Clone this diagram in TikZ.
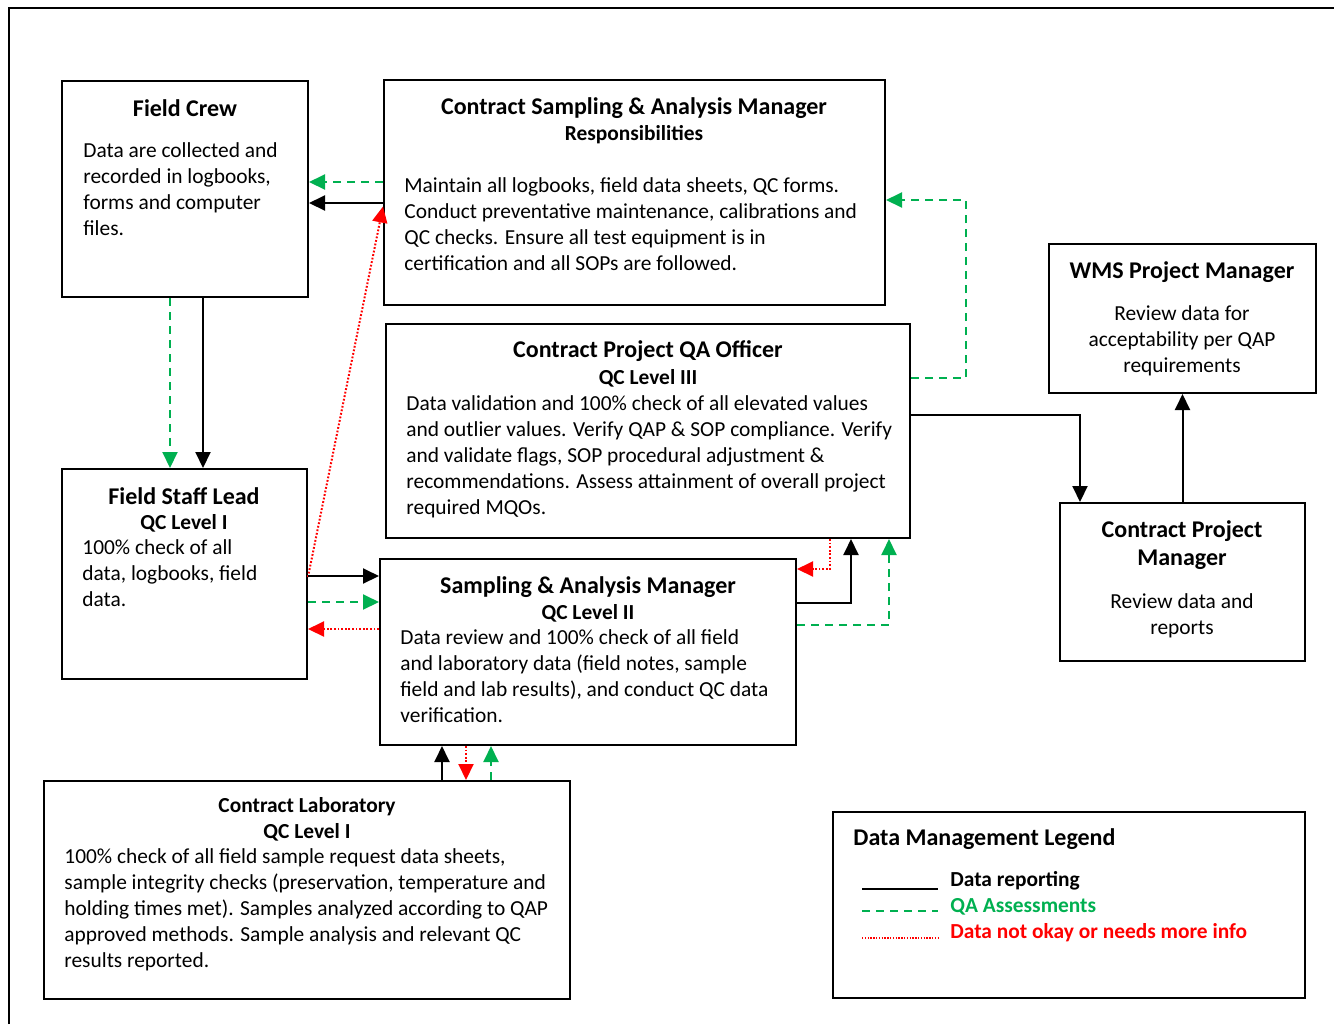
\documentclass[tikz,border=0pt]{standalone}
\usepackage{fontspec}
\setmainfont{Carlito}
\usetikzlibrary{arrows.meta, positioning}
\definecolor{qagreen}{RGB}{0,176,80}

\tikzset{
  box/.style={draw, line width=1pt, inner sep=0pt},
  head/.style={font=\bfseries\fontsize{12}{14}\selectfont, inner sep=0pt, align=center, yshift=-0.75pt},
  sub/.style={font=\bfseries\fontsize{10.7}{13}\selectfont, inner sep=0pt, yshift=-0.75pt},
  legtext/.style={font=\bfseries\fontsize{10.7}{13}\selectfont, inner sep=0pt, anchor=west},
  body/.style={font=\fontsize{10.7}{13}\selectfont, inner sep=0pt, align=left, anchor=base west},
  cbody/.style={font=\fontsize{10.7}{13}\selectfont, inner sep=0pt, align=center, anchor=base},
  tip/.style={-{Triangle[length=8pt,width=7.5pt]}},
  report/.style={tip, line width=1pt},
  qa/.style={tip, qagreen, line width=1pt, dash pattern=on 4pt off 3pt},
  notok/.style={tip, red, line width=1pt, dash pattern=on 0.9pt off 0.9pt},
}

\begin{document}
\begin{tikzpicture}[x=0.5pt, y=-0.5pt]
  \useasboundingbox (0,0) rectangle (1334,1024);
  \draw[line width=1.2pt] (9,1024) -- (9,8) -- (1334,8);

  % Boxes
  \node[box, minimum width=123pt, minimum height=108pt] (crew) at (185,189) {};
  \node[box, minimum width=250.5pt, minimum height=112.5pt] (csam) at (634.5,192.5) {};
  \node[box, minimum width=262pt, minimum height=107pt] (qao) at (648,431) {};
  \node[box, minimum width=133.5pt, minimum height=74.5pt] (wms) at (1182.5,318.5) {};
  \node[box, minimum width=122.5pt, minimum height=79pt] (cpm) at (1182.5,582) {};
  \node[box, minimum width=122.5pt, minimum height=105pt] (fsl) at (184.5,574) {};
  \node[box, minimum width=208pt, minimum height=93pt] (sam) at (588,652) {};
  \node[box, minimum width=263pt, minimum height=109pt] (lab) at (307,890) {};
  \node[box, minimum width=236pt, minimum height=93pt] (legend) at (1069,905) {};

  % Texts (multi-line nodes sit on the baseline of their last line)
  \node[head] (crewT) at (185,107) {Field Crew};
  \node[body] (crewB) at (83,235) {Data are collected and\\recorded in logbooks,\\forms and computer\\files.};

  \node[head] (csamT) at (634,107) {Contract Sampling \& Analysis Manager};
  \node[sub] (csamS) at (634,133) {Responsibilities};
  \node[body] (csamB) at (404,270) {Maintain all logbooks, field data sheets, QC forms.\\Conduct preventative maintenance, calibrations and\\QC checks. Ensure all test equipment is in\\certification and all SOPs are followed.};

  \node[head] (qaoT) at (648,350) {Contract Project QA Officer};
  \node[sub] (qaoS) at (648,377) {QC Level III};
  \node[body] (qaoB) at (406,514) {Data validation and 100\% check of all elevated values\\and outlier values. Verify QAP \& SOP compliance. Verify\\and validate flags, SOP procedural adjustment \&\\recommendations. Assess attainment of overall project\\required MQOs.};

  \node[head] (wmsT) at (1182,271) {WMS Project Manager};
  \node[cbody] (wmsB) at (1182,372) {Review data for\\acceptability per QAP\\requirements};

  \node[head, anchor=base] (cpmT) at (1182,564) {Contract Project\\Manager};
  \node[cbody] (cpmB) at (1182,634) {Review data and\\reports};

  \node[head] (fslT) at (184,495) {Field Staff Lead};
  \node[sub] (fslS) at (184,522) {QC Level I};
  \node[body] (fslB) at (82,606) {100\% check of all\\data, logbooks, field\\data.};

  \node[head] (samT) at (588,586) {Sampling \& Analysis Manager};
  \node[sub] (samS) at (588,612) {QC Level II};
  \node[body] (samB) at (400,722) {Data review and 100\% check of all field\\and laboratory data (field notes, sample\\field and lab results), and conduct QC data\\verification.};

  \node[sub] (labT) at (307,805) {Contract Laboratory};
  \node[sub] (labS) at (307,831) {QC Level I};
  \node[body] (labB) at (64,967) {100\% check of all field sample request data sheets,\\sample integrity checks (preservation, temperature and\\holding times met). Samples analyzed according to QAP\\approved methods. Sample analysis and relevant QC\\results reported.};

  % Legend
  \node[head, anchor=west] (legT) at (853,838) {Data Management Legend};
  \node[legtext] (legA) at (950,881) {Data reporting};
  \node[legtext, text=qagreen] (legB) at (950,907) {QA Assessments};
  \node[legtext, text=red] (legC) at (950,933) {Data not okay or needs more info};
  \coordinate (legA1) at (862,889);
  \coordinate (legB1) at (862,911);
  \coordinate (legC1) at (862,938);
  \draw[line width=1pt] (legA1) -- ([xshift=-6pt]legA1 -| legA.west);
  \draw[qagreen, line width=1pt, dash pattern=on 4pt off 3pt] (legB1) -- ([xshift=-6pt]legB1 -| legB.west);
  \draw[red, line width=0.7pt, dash pattern=on 0.7pt off 0.7pt] (legC1) -- ([xshift=-6pt]legC1 -| legC.west);

  % Connectors
  \draw[qa] ([yshift=5.25pt]csam.west) -- ([yshift=5.25pt]csam.west -| crew.east);
  \draw[report] ([yshift=-5.25pt]csam.west) -- ([yshift=-5.25pt]csam.west -| crew.east);
  \draw[notok] ([yshift=-1.5pt]fsl.east) -- ([yshift=-7pt]csam.west);

  \draw[qa] ([xshift=-7.5pt]crew.south) -- ([xshift=-7.5pt]crew.south |- fsl.north);
  \draw[report] ([xshift=9pt]crew.south) -- ([xshift=9pt]crew.south |- fsl.north);

  \draw[report] ([yshift=-1pt]fsl.east) -- ([yshift=-1pt]fsl.east -| sam.west);
  \draw[qa] ([yshift=-14pt]fsl.east) -- ([yshift=-14pt]fsl.east -| sam.west);
  \draw[notok] ([yshift=11.5pt]sam.west) -- ([yshift=11.5pt]sam.west -| fsl.east);

  \draw[notok] ([xshift=91pt]qao.south) |- ([yshift=41.5pt]sam.east);
  \draw[report] ([yshift=24.5pt]sam.east) -| ([xshift=101.5pt]qao.south);
  \draw[qa] ([yshift=13.5pt]sam.east) -| ([xshift=120.5pt]qao.south);

  \draw[qa] ([yshift=26.5pt]qao.east) -- ++(27.5pt,0) |- ([yshift=-3.75pt]csam.east);
  \draw[report] ([yshift=8pt]qao.east) -| ([xshift=-51.25pt]cpm.north);
  \draw[report] (cpm.north) -- (wms.south);

  \draw[report] ([xshift=67.5pt]lab.north) -- ([xshift=67.5pt]lab.north |- sam.south);
  \draw[notok] ([xshift=-61pt]sam.south) -- ([xshift=-61pt]sam.south |- lab.north);
  \draw[qa] ([xshift=92pt]lab.north) -- ([xshift=92pt]lab.north |- sam.south);
\end{tikzpicture}
\end{document}
